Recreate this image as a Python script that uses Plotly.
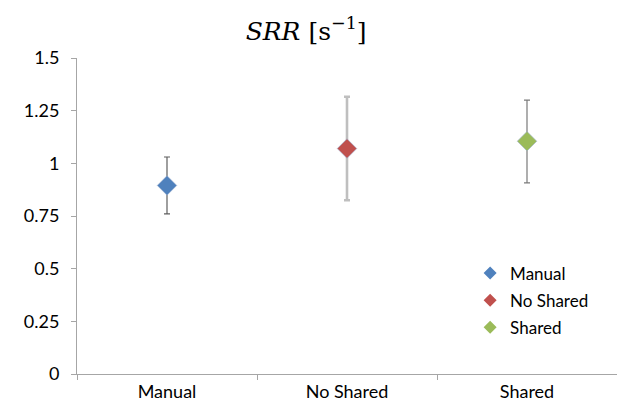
import plotly.graph_objects as go

categories = ["Manual", "No Shared", "Shared"]
means = [0.895, 1.07, 1.105]
err_plus = [0.135, 0.246, 0.195]
err_minus = [0.135, 0.245, 0.198]
colors = ["#4F81BD", "#C0504D", "#9BBB59"]
err_colors = ["#5F5F5F", "#BFBFBF", "#7A7A7A"]
err_thick = [1.2, 2.6, 1.2]
yticks = [0, 0.25, 0.5, 0.75, 1, 1.25, 1.5]
ytick_text = ["0", "0.25", "0.5", "0.75", "1", "1.25", "1.5"]

fig = go.Figure()
for i, c in enumerate(categories):
    fig.add_trace(go.Scatter(
        x=[c], y=[means[i]], mode="markers", name=c, showlegend=False,
        marker=dict(symbol="diamond", size=15, color=colors[i],
                    line=dict(width=0.6, color="#9DB0D0")),
        error_y=dict(type="data", symmetric=False, array=[err_plus[i]],
                     arrayminus=[err_minus[i]], color=err_colors[i],
                     thickness=err_thick[i], width=3),
    ))
for i, c in enumerate(categories):
    fig.add_trace(go.Scatter(
        x=[None], y=[None], mode="markers", name=c, showlegend=True,
        legendgroup=c,
        marker=dict(symbol="diamond", size=10, color=colors[i]),
    ))

fig.update_layout(
    width=625, height=403,
    margin=dict(l=69, r=16, t=50, b=37),
    paper_bgcolor="white", plot_bgcolor="white",
    font=dict(family="Lato", size=18, color="#000000"),
    title=dict(text="<i>SRR</i> [s<sup>−1</sup>]", x=0.477, xanchor="center",
               y=0.943, yanchor="middle", automargin=False,
               font=dict(family="DejaVu Serif", size=25, color="#000000")),
    showlegend=True,
    legend=dict(x=0.728, y=0.375, xanchor="left", yanchor="top",
                font=dict(family="Lato", size=17), bgcolor="rgba(0,0,0,0)",
                traceorder="grouped", tracegroupgap=2, itemsizing="trace"),
    xaxis=dict(type="category", categoryorder="array", categoryarray=categories,
               range=[-0.5, 2.5], showline=True, linecolor="#A6A6A6", linewidth=1,
               ticks="outside", ticklen=5, tickcolor="#A6A6A6", tickson="boundaries",
               showgrid=False, zeroline=False, ticklabelstandoff=1, automargin=False,
               tickfont=dict(family="Lato", size=18)),
    yaxis=dict(range=[0, 1.5], tickvals=yticks, ticktext=ytick_text,
               showline=True, linecolor="#A6A6A6", linewidth=1,
               ticks="outside", ticklen=5, tickcolor="#A6A6A6",
               showgrid=False, zeroline=False, ticklabelstandoff=8, automargin=False,
               tickfont=dict(family="Lato", size=18)),
)

fig.write_html("out.html")
